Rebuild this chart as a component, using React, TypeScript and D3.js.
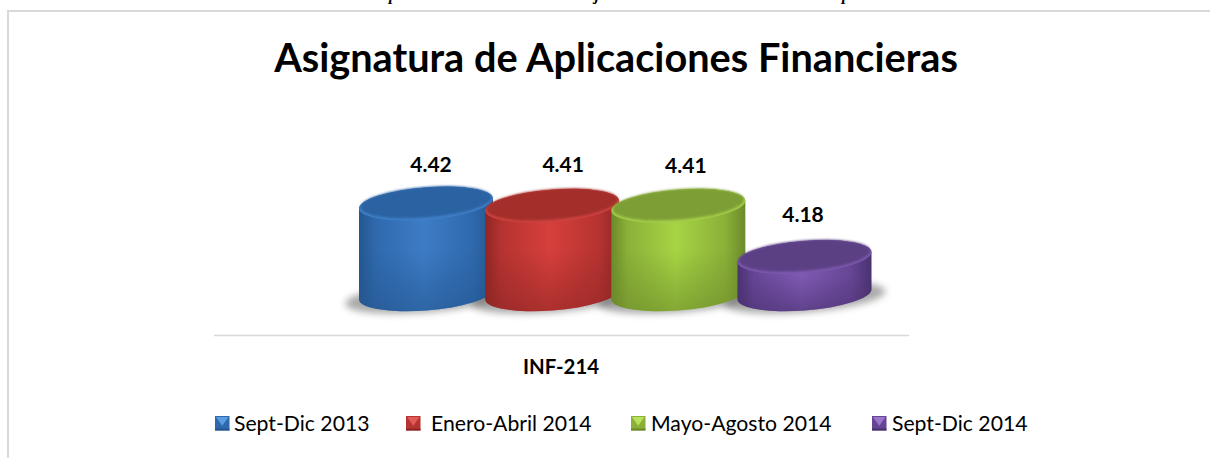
import React from "react";
import * as d3 from "d3";

const title = "Asignatura de Aplicaciones Financieras";
const categoryLabel = "INF-214";
const periods = ["Sept-Dic 2013", "Enero-Abril 2014", "Mayo-Agosto 2014", "Sept-Dic 2014"];
const scores = [4.42, 4.41, 4.41, 4.18];
const clippedCaptionGlyphs = ["p", "j", "p"];

const W = 1210, H = 458;
const FONT = "Lato, Carlito, sans-serif";
const palette = [
  { top: "#2c62a2", rim: "#3f80c8", light: "#3d7cc6", mid: "#2f69ad", dark: "#24568f", glow: "#5b9ee0" },
  { top: "#a32e2b", rim: "#cf4340", light: "#d63f3c", mid: "#b53331", dark: "#8e2624", glow: "#e25a57" },
  { top: "#7d9e35", rim: "#a5cf4a", light: "#a6d444", mid: "#8bb038", dark: "#6b8a2a", glow: "#b9e05c" },
  { top: "#5b3f84", rim: "#7c5aae", light: "#8059b3", mid: "#654594", dark: "#4a3270", glow: "#9a77cc" },
];
const labelDx = [5, 11, 7.5, -1.5];
const labelGap = [31.5, 33.7, 32.7, 35];
const legendX = [215, 406, 631, 872];
const legendTextX = [234, 431, 651, 892];
const captionX = [393, 597, 846];

const x = d3.scalePoint<string>().domain(periods).range([426, 804.5]);
const y = d3.scaleLinear().domain([4.012, 4.44]).range([294.5, 199.1]);
const base = y(4.012);

const a = 67.2, b = 16.2, rot = -4.5, hw = 67, tilt = 5;

function sidePath(cx: number, top: number) {
  return [
    `M${cx - hw},${top + tilt}`,
    `L${cx - hw},${base + tilt}`,
    `A${a},${b} ${rot} 0 0 ${cx + hw},${base - tilt}`,
    `L${cx + hw},${top - tilt}`,
    `A${a},${b} ${rot} 0 0 ${cx - hw},${top + tilt}`,
    "Z",
  ].join(" ");
}

export default function App() {
  return (
    <svg width={W} height={H} viewBox={`0 0 ${W} ${H}`} style={{ position: "absolute", left: 0, top: 0, display: "block", background: "#fff" }}>
      <defs>
        <filter id="sh" x="-30%" y="-60%" width="160%" height="220%"><feGaussianBlur stdDeviation="3.5" /></filter>
        <filter id="soft" x="-10%" y="-30%" width="120%" height="160%"><feGaussianBlur stdDeviation="1" /></filter>
        {palette.map((c, i) => (
          <React.Fragment key={i}>
            <linearGradient id={`side${i}`} x1="0" x2="1" y1="0" y2="0">
              <stop offset="0" stopColor={c.dark} />
              <stop offset="0.12" stopColor={c.mid} />
              <stop offset="0.48" stopColor={c.light} />
              <stop offset="0.85" stopColor={c.mid} />
              <stop offset="1" stopColor={c.dark} />
            </linearGradient>
            <linearGradient id={`vert${i}`} x1="0" x2="0" y1="0" y2="1">
              <stop offset="0.5" stopColor={c.dark} stopOpacity="0" />
              <stop offset="1" stopColor={c.dark} stopOpacity="0.6" />
            </linearGradient>
          </React.Fragment>
        ))}
      </defs>

      <path d={`M8,${H}V11H${W}`} fill="none" stroke="#d9d9d9" strokeWidth={2} />
      {clippedCaptionGlyphs.map((g, i) => (
        <text key={i} x={captionX[i]} y={0} textAnchor="middle" fontFamily="Liberation Serif" fontStyle="italic" fontWeight="bold" fontSize={16} fill="#000">{g}</text>
      ))}

      <text x={616} y={72} textAnchor="middle" fontFamily={FONT} fontWeight="bold" fontSize={39.7} fill="#000">{title}</text>

      {periods.map((p) => (
        <ellipse key={p} cx={x(p)!} cy={base + 3} rx={81} ry={15} transform={`rotate(${rot} ${x(p)!} ${base + 3})`} fill="#555" opacity={0.5} filter="url(#sh)" />
      ))}

      {periods.map((p, i) => {
        const cx = x(p)!;
        const top = y(scores[i]);
        const c = palette[i];
        return (
          <g key={p}>
            <path d={sidePath(cx, top)} fill={`url(#side${i})`} />
            <path d={sidePath(cx, top)} fill={`url(#vert${i})`} />
            <ellipse cx={cx} cy={top} rx={a} ry={b} transform={`rotate(${rot} ${cx} ${top})`} fill={c.rim} />
            <ellipse cx={cx} cy={top - 1.4} rx={a - 1.5} ry={b - 1} transform={`rotate(${rot} ${cx} ${top - 1.4})`} fill={c.top} filter="url(#soft)" />
          </g>
        );
      })}

      {periods.map((p, i) => (
        <text key={p} x={x(p)! + labelDx[i]} y={y(scores[i]) - labelGap[i]} textAnchor="middle" fontFamily={FONT} fontWeight="bold" fontSize={21} fill="#000">{d3.format(".2f")(scores[i])}</text>
      ))}

      <line x1={214} x2={909} y1={335.5} y2={335.5} stroke="#d9d9d9" strokeWidth={1.5} />
      <text x={561} y={374} textAnchor="middle" fontFamily={FONT} fontWeight="bold" fontSize={20.4} fill="#000">{categoryLabel}</text>

      {periods.map((p, i) => {
        const mx = legendX[i], my = 416, s = 14.5;
        const c = palette[i];
        return (
          <g key={p}>
            <rect x={mx} y={my} width={s} height={s} fill={c.mid} />
            <rect x={mx} y={my + s - 2} width={s} height={2} fill={c.dark} />
            <polygon points={`${mx + 1},${my + 1} ${mx + s - 1},${my + 1} ${mx + s / 2},${my + s * 0.68}`} fill={c.glow} />
            <text x={legendTextX[i]} y={431} fontFamily={FONT} fontSize={21.2} fill="#000">{p}</text>
          </g>
        );
      })}
    </svg>
  );
}
